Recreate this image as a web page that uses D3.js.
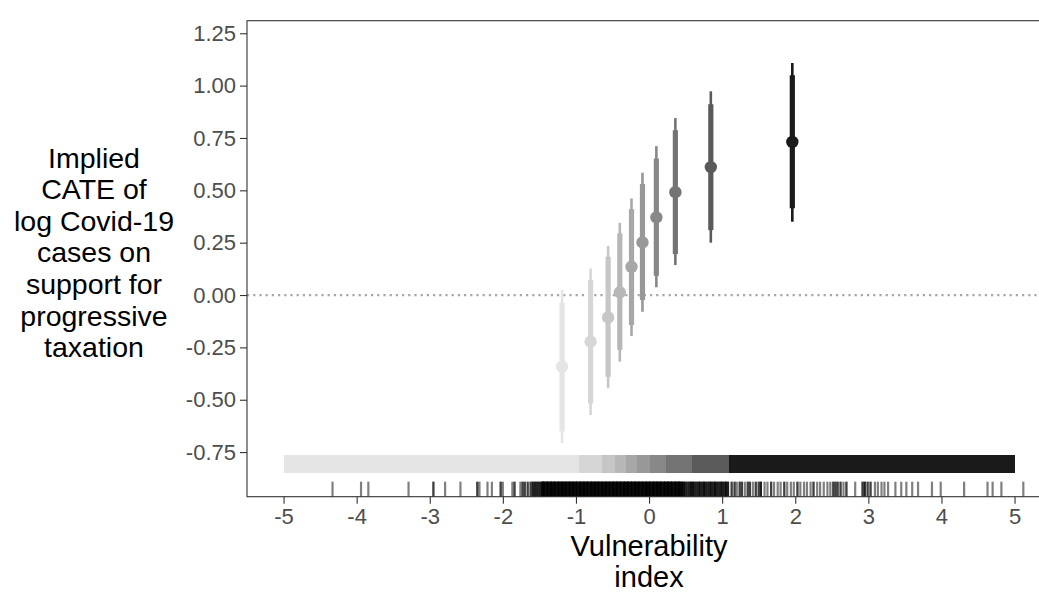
<!DOCTYPE html>
<html>
<head>
<meta charset="utf-8">
<script src="https://cdn.jsdelivr.net/npm/d3@7"></script>
<style>
  html, body { margin: 0; padding: 0; background: #fff; }
  svg { display: block; font-family: "Liberation Sans", Arial, Helvetica, sans-serif; }
</style>
</head>
<body>
<svg id="chart" width="1039" height="592"></svg>
<script>
// decile midpoints of the vulnerability index and the implied CATE
const vuln = [-1.19, -0.80, -0.56, -0.40, -0.24, -0.09, 0.10, 0.36, 0.845, 1.96];
const cate = [-0.342, -0.223, -0.107, 0.013, 0.135, 0.251, 0.371, 0.491, 0.611, 0.731];
const lo95 = [-0.707, -0.573, -0.445, -0.318, -0.196, -0.080, 0.037, 0.143, 0.250, 0.350];
const hi95 = [0.024, 0.127, 0.234, 0.345, 0.461, 0.584, 0.711, 0.845, 0.973, 1.108];
const lo90 = [-0.652, -0.517, -0.390, -0.262, -0.143, -0.024, 0.092, 0.196, 0.310, 0.414];
const hi90 = [-0.037, 0.072, 0.183, 0.294, 0.410, 0.530, 0.652, 0.787, 0.911, 1.050];
const greys = ["#e5e5e5", "#d6d6d6", "#c6c6c6", "#b7b7b7", "#a7a7a7", "#989898", "#888888", "#747474", "#5a5a5a", "#1a1a1a"];

// shaded band: bin edges along the index
const bandEdges = [-5, -0.955, -0.65, -0.47, -0.32, -0.17, 0.01, 0.23, 0.585, 1.10, 5];
const bandY = [-0.765, -0.848];

// rug of observed index values (value, multiplicity)
const rugX = [
  -4.33, -3.94, -3.84, -3.29, -2.95, -2.79, -2.58, -2.35, -2.32, -2.21, -2.15, -2.03, -2.00, -1.87, -1.84,
  -1.76, -1.73, -1.70, -1.66, -1.62, -1.59, -1.56, -1.53, -1.50, -1.47,
  -1.45, -1.43, -1.40, -1.38, -1.35, -1.33, -1.30, -1.28, -1.25, -1.23, -1.20, -1.18, -1.15, -1.13, -1.10,
  -1.08, -1.05, -1.03, -1.00, -0.98, -0.95, -0.93, -0.90, -0.88, -0.85, -0.83, -0.80, -0.78, -0.75, -0.73,
  -0.70, -0.68, -0.65, -0.63, -0.60, -0.58, -0.55, -0.53, -0.50, -0.48, -0.45, -0.43, -0.40, -0.38, -0.35,
  -0.33, -0.30, -0.28, -0.25, -0.23, -0.20, -0.18, -0.15, -0.13, -0.10, -0.08, -0.05, -0.03, 0.00, 0.02,
  0.05, 0.07, 0.10, 0.12, 0.15, 0.17, 0.20, 0.22, 0.25, 0.27, 0.30, 0.32, 0.35, 0.37, 0.40, 0.42, 0.45,
  0.48, 0.51, 0.54, 0.57, 0.60, 0.63, 0.66, 0.69, 0.72, 0.75, 0.78, 0.81, 0.84, 0.87, 0.90, 0.93, 0.96,
  0.99, 1.02, 1.05, 1.08,
  1.13, 1.17, 1.20, 1.24, 1.27, 1.31, 1.35, 1.38, 1.42, 1.46, 1.50, 1.53,
  1.58, 1.62, 1.67, 1.71, 1.76, 1.80, 1.85, 1.89, 1.94, 1.98, 2.03, 2.07, 2.12, 2.16, 2.21, 2.25, 2.30,
  2.34, 2.39, 2.44, 2.48,
  2.52, 2.55, 2.58, 2.62, 2.66, 2.70, 2.82, 2.92, 2.95, 2.99, 3.03, 3.09, 3.13, 3.18, 3.22, 3.27,
  3.37, 3.45, 3.52, 3.60, 3.68, 3.87, 3.99, 4.31, 4.63, 4.70, 4.82, 5.12
];
const rugN = [
  1, 1, 1, 1, 2, 1, 1, 2, 1, 1, 1, 2, 1, 1, 2,
  1, 2, 2, 2, 2, 3, 3, 3, 3, 4,
  5, 5, 5, 5, 5, 5, 5, 5, 5, 5, 5, 5, 5, 5, 5,
  5, 5, 5, 5, 5, 5, 5, 5, 5, 5, 5, 5, 5, 5, 5,
  5, 5, 5, 5, 5, 5, 5, 5, 5, 5, 5, 5, 5, 5, 5,
  5, 5, 5, 5, 5, 5, 5, 5, 5, 5, 5, 5, 5, 5, 5,
  5, 5, 5, 5, 5, 5, 5, 5, 5, 5, 5, 5, 5, 5, 5, 5, 5,
  4, 3, 3, 4, 4, 3, 3, 4, 3, 4, 3, 3, 4, 3, 4, 3, 3,
  4, 3, 4, 3,
  2, 2, 1, 2, 2, 1, 2, 2, 1, 2, 2, 3,
  1, 1, 2, 1, 1, 1, 2, 1, 1, 1, 2, 1, 1, 1, 1, 2, 1,
  1, 1, 1, 1,
  2, 2, 2, 2, 1, 2, 1, 2, 3, 2, 2, 1, 1, 1, 1, 1,
  1, 1, 1, 1, 1, 1, 1, 1, 1, 1, 1, 1
];

const xTicks = [-5, -4, -3, -2, -1, 0, 1, 2, 3, 4, 5];
const yTicks = [-0.75, -0.5, -0.25, 0, 0.25, 0.5, 0.75, 1, 1.25];
const yTitle = ["Implied", "CATE of", "log Covid-19", "cases on", "support for", "progressive", "taxation"];
const xTitle = ["Vulnerability", "index"];

const svg = d3.select("#chart");
const panelLeft = 247, panelTop = 20.7, panelBottom = 496.7, unit = 73.1;
const x = d3.scaleLinear().domain([-5.5, 5.62]).range([panelLeft, panelLeft + 11.12 * unit]);
const y = d3.scaleLinear().domain([-0.963, 1.31]).range([panelBottom, panelTop]);
const panelRight = x.range()[1];

const hyphen = (s) => s.replace("\u2212", "-");

// zero reference line
svg.append("line")
  .attr("x1", panelLeft).attr("x2", panelRight)
  .attr("y1", y(0)).attr("y2", y(0))
  .attr("stroke", "#a6a6a6").attr("stroke-width", 2.2)
  .attr("stroke-dasharray", "2.2,4");

// intervals and points
const pts = vuln.map((v, i) => ({ v, c: cate[i], lo95: lo95[i], hi95: hi95[i], lo90: lo90[i], hi90: hi90[i], col: greys[i] }));
const g = svg.append("g").selectAll("g").data(pts).join("g");
g.append("line")
  .attr("x1", (d) => x(d.v)).attr("x2", (d) => x(d.v))
  .attr("y1", (d) => y(d.lo95)).attr("y2", (d) => y(d.hi95))
  .attr("stroke", (d) => d.col).attr("stroke-width", 2.6);
g.append("line")
  .attr("x1", (d) => x(d.v)).attr("x2", (d) => x(d.v))
  .attr("y1", (d) => y(d.lo90)).attr("y2", (d) => y(d.hi90))
  .attr("stroke", (d) => d.col).attr("stroke-width", 5.2);
g.append("circle")
  .attr("cx", (d) => x(d.v)).attr("cy", (d) => y(d.c))
  .attr("r", 6.2).attr("fill", (d) => d.col);

// band of bins
svg.append("g").selectAll("rect")
  .data(greys)
  .join("rect")
  .attr("x", (d, i) => x(bandEdges[i]))
  .attr("width", (d, i) => x(bandEdges[i + 1]) - x(bandEdges[i]))
  .attr("y", y(bandY[0]))
  .attr("height", y(bandY[1]) - y(bandY[0]))
  .attr("fill", (d) => d)
  .attr("shape-rendering", "crispEdges");

// rug
const rug = [];
rugX.forEach((v, i) => { for (let k = 0; k < rugN[i]; k++) rug.push(v); });
svg.append("g").selectAll("line")
  .data(rug)
  .join("line")
  .attr("x1", (d) => x(d)).attr("x2", (d) => x(d))
  .attr("y1", panelBottom - 15).attr("y2", panelBottom)
  .attr("stroke", "#000").attr("stroke-opacity", 0.5).attr("stroke-width", 2.2);

// panel border
svg.append("rect")
  .attr("x", panelLeft).attr("y", panelTop)
  .attr("width", panelRight - panelLeft).attr("height", panelBottom - panelTop)
  .attr("fill", "none").attr("stroke", "#333").attr("stroke-width", 1.1);

// axes
const yAxis = svg.append("g")
  .attr("transform", `translate(${panelLeft},0)`)
  .call(d3.axisLeft(y).tickValues(yTicks).tickSize(7).tickPadding(4)
    .tickFormat((d) => hyphen(d3.format(".2f")(d))));
const xAxis = svg.append("g")
  .attr("transform", `translate(0,${panelBottom})`)
  .call(d3.axisBottom(x).tickValues(xTicks).tickSize(7).tickPadding(5)
    .tickFormat((d) => hyphen(d3.format("d")(d))));
[yAxis, xAxis].forEach((a) => {
  a.select(".domain").remove();
  a.selectAll(".tick line").attr("stroke", "#333").attr("stroke-width", 1.1);
  a.selectAll(".tick text")
    .attr("fill", "#4d4d4d")
    .style("font-size", "22px")
    .style("font-family", "'Liberation Sans', Arial, sans-serif");
});

// axis titles
svg.append("text")
  .attr("text-anchor", "middle")
  .style("font-size", "29px")
  .selectAll("tspan")
  .data(xTitle)
  .join("tspan")
  .attr("x", 649)
  .attr("y", (d, i) => 556 + i * 31)
  .text((d) => d);

svg.append("text")
  .attr("text-anchor", "middle")
  .style("font-size", "28.5px")
  .selectAll("tspan")
  .data(yTitle)
  .join("tspan")
  .attr("x", 94)
  .attr("y", (d, i) => 167.5 + i * 31.6)
  .text((d) => d);
</script>
</body>
</html>
